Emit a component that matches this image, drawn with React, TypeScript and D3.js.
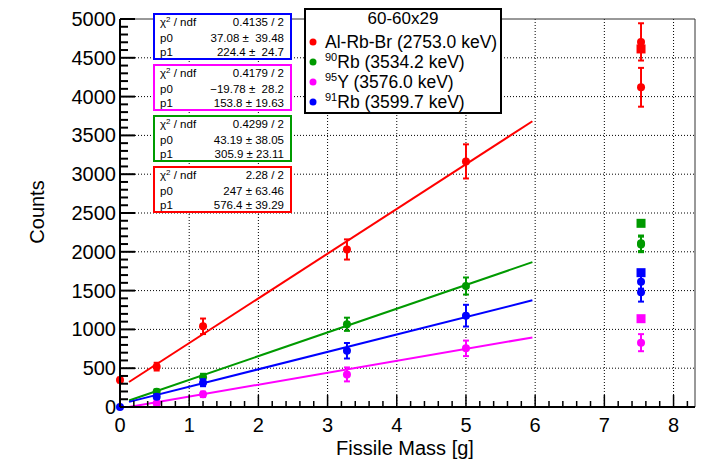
import React from "react";
import * as d3 from "d3";

// data
const redMass = [0, 0.53, 1.2, 3.28, 5.0, 7.53, 7.53];
const redCounts = [348, 520, 1040, 2030, 3165, 4120, 4705];
const redErr = [30, 50, 100, 130, 220, 250, 240];
const redSquare = [4614];

const greenMass = [0.53, 1.2, 3.28, 5.0, 7.53, 7.53];
const greenCounts = [197, 383, 1066, 1559, 2110, 2095];
const greenErr = [30, 45, 85, 110, 100, 100];
const greenSquare = [2367];

const blueMass = [0, 0.53, 1.2, 3.28, 5.0, 7.53, 7.53];
const blueCounts = [0, 133, 313, 725, 1177, 1615, 1478];
const blueErr = [10, 30, 45, 100, 140, 90, 120];
const blueSquare = [1731];

const magentaMass = [0.53, 1.2, 3.28, 5.0, 7.53];
const magentaCounts = [48, 163, 420, 756, 829];
const magentaErr = [20, 35, 90, 100, 110];
const magentaSquare = [1138];

const squareMass = 7.53;

// fit parameters (p0 + p1*x)
const fitP0 = [247, 43.19, -19.78, 37.08];
const fitP1 = [576.4, 305.9, 153.8, 224.4];
const fitRange = [0.13, 5.96];

const legendTitle = "60-60x29";
const legendNames = [
  { sup: "", name: "Al-Rb-Br (2753.0 keV)" },
  { sup: "90", name: "Rb (3534.2 keV)" },
  { sup: "95", name: "Y (3576.0 keV)" },
  { sup: "91", name: "Rb (3599.7 keV)" },
];

// stat boxes top to bottom: blue, magenta, green, red
const statChi = ["0.4135 / 2", "0.4179 / 2", "0.4299 / 2", "2.28 / 2"];
const statP0 = ["37.08 \u00b1  39.48", "\u221219.78 \u00b1  28.2", "43.19 \u00b1 38.05", "247 \u00b1 63.46"];
const statP1 = ["224.4 \u00b1  24.7", "153.8 \u00b1 19.63", "305.9 \u00b1 23.11", "576.4 \u00b1 39.29"];
const statColors = ["#0000ff", "#ff00ff", "#009a00", "#ff0000"];

const yTicks = [0, 500, 1000, 1500, 2000, 2500, 3000, 3500, 4000, 4500, 5000];
const xTicks = [0, 1, 2, 3, 4, 5, 6, 7, 8];

const colors = ["#ff0000", "#009a00", "#ff00ff", "#0000ff"];

const W = 709;
const H = 463;
const font = "'Liberation Sans', Arial, sans-serif";

export default function App() {
  const left = 120, right = 695, top = 19, bottom = 407;
  const x = d3.scaleLinear().domain([0, 8.31]).range([left, right]);
  const y = d3.scaleLinear().domain([0, 5000]).range([bottom, top]);

  const series = [
    { mass: redMass, counts: redCounts, err: redErr, sq: redSquare },
    { mass: greenMass, counts: greenCounts, err: greenErr, sq: greenSquare },
    { mass: magentaMass, counts: magentaCounts, err: magentaErr, sq: magentaSquare },
    { mass: blueMass, counts: blueCounts, err: blueErr, sq: blueSquare },
  ];

  const line = d3
    .line<number[]>()
    .x((d) => x(d[0]))
    .y((d) => y(d[1]));

  const yMinor = d3.range(0, 5001, 100);
  const xMinor = d3.range(0, 8.31, 0.2);

  return (
    <svg
      width={W}
      height={H}
      style={{ position: "absolute", left: 0, top: 0, background: "#fff" }}
      fontFamily={font}
    >
      <rect x={0} y={0} width={W} height={H} fill="#fff" />
      {/* grid */}
      {xTicks.filter((t) => t > 0).map((t) => (
        <line key={"gx" + t} x1={x(t)} x2={x(t)} y1={top} y2={bottom} stroke="#000" strokeWidth={1} strokeDasharray="1,2" />
      ))}
      {yTicks.filter((t) => t > 0 && t < 5000).map((t) => (
        <line key={"gy" + t} x1={left} x2={right} y1={y(t)} y2={y(t)} stroke="#000" strokeWidth={1} strokeDasharray="1,2" />
      ))}

      {/* frame */}
      <line x1={left} x2={right} y1={top} y2={top} stroke="#333" strokeWidth={1} />
      <line x1={right} x2={right} y1={top} y2={bottom} stroke="#333" strokeWidth={1} />

      {/* fits */}
      {series.map((s, i) => (
        <path
          key={"fit" + i}
          d={line(fitRange.map((m) => [m, fitP0[i] + fitP1[i] * m])) || ""}
          fill="none"
          stroke={colors[i]}
          strokeWidth={2}
        />
      ))}

      {/* points */}
      {series.map((s, i) => (
        <g key={"pts" + i} fill={colors[i]} stroke={colors[i]}>
          {s.mass.map((m, j) => (
            <g key={j}>
              <line x1={x(m)} x2={x(m)} y1={y(s.counts[j] - s.err[j])} y2={y(s.counts[j] + s.err[j])} strokeWidth={2} />
              <line x1={x(m) - 3} x2={x(m) + 3} y1={y(s.counts[j] - s.err[j])} y2={y(s.counts[j] - s.err[j])} strokeWidth={2} />
              <line x1={x(m) - 3} x2={x(m) + 3} y1={y(s.counts[j] + s.err[j])} y2={y(s.counts[j] + s.err[j])} strokeWidth={2} />
              <circle cx={x(m)} cy={y(s.counts[j])} r={4} stroke="none" />
            </g>
          ))}
          {s.sq.map((v, j) => (
            <rect key={"sq" + j} x={x(squareMass) - 4.5} y={y(v) - 4.5} width={9} height={9} stroke="none" />
          ))}
        </g>
      ))}

      {/* axes */}
      <line x1={left} x2={left} y1={top} y2={bottom} stroke="#000" strokeWidth={2} />
      <line x1={left} x2={right} y1={bottom} y2={bottom} stroke="#000" strokeWidth={2} />
      {yMinor.map((t) => (
        <line key={"ym" + t} x1={left} x2={left + (t % 500 === 0 ? 15 : 8)} y1={y(t)} y2={y(t)} stroke="#000" strokeWidth={2} />
      ))}
      {xMinor.map((t, i) => (
        <line key={"xm" + i} x1={x(t)} x2={x(t)} y1={bottom} y2={bottom - (i % 5 === 0 ? 12 : 6)} stroke="#000" strokeWidth={1.5} />
      ))}
      {yTicks.map((t) => (
        <text key={"yl" + t} x={left - 4} y={y(t) + 7} fontSize={20} textAnchor="end" fill="#000">
          {t}
        </text>
      ))}
      {xTicks.map((t) => (
        <text key={"xl" + t} x={x(t)} y={bottom + 25} fontSize={20} textAnchor="middle" fill="#000">
          {t}
        </text>
      ))}
      <text x={405} y={455} fontSize={20} textAnchor="middle" fill="#000">
        Fissile Mass [g]
      </text>
      <text transform="translate(44,212) rotate(-90)" fontSize={20} textAnchor="middle" fill="#000">
        Counts
      </text>

      {/* stat boxes */}
      {statColors.map((c, i) => {
        const by = 14 + i * 51;
        return (
          <g key={"st" + i} fontSize={11.5} fill="#000">
            <rect x={154} y={by} width={137} height={45} fill="#fff" stroke={c} strokeWidth={2} />
            <text x={160} y={by + 12}>
              {"\u03c7"}
              <tspan dy={-4} fontSize={8}>2</tspan>
              <tspan dy={4}>{" / ndf"}</tspan>
            </text>
            <text x={284} y={by + 12} textAnchor="end">{statChi[i]}</text>
            <text x={160} y={by + 28}>p0</text>
            <text x={284} y={by + 28} textAnchor="end" style={{ whiteSpace: "pre" }}>{statP0[i]}</text>
            <text x={160} y={by + 42}>p1</text>
            <text x={284} y={by + 42} textAnchor="end" style={{ whiteSpace: "pre" }}>{statP1[i]}</text>
          </g>
        );
      })}

      {/* legend */}
      <g>
        <rect x={305} y={9} width={196} height={104} fill="#fff" stroke="#000" strokeWidth={2} />
        <text x={403} y={24} fontSize={17} textAnchor="middle" fill="#000">{legendTitle}</text>
        {legendNames.map((l, i) => {
          const cy = 42 + i * 20;
          return (
            <g key={"lg" + i}>
              <circle cx={313} cy={cy} r={3.5} fill={colors[i]} />
              <text x={325} y={cy + 6} fontSize={17.5} fill="#000">
                {l.sup ? (
                  <>
                    <tspan dy={-7} fontSize={11}>{l.sup}</tspan>
                    <tspan dy={7}>{l.name}</tspan>
                  </>
                ) : (
                  l.name
                )}
              </text>
            </g>
          );
        })}
      </g>
    </svg>
  );
}
